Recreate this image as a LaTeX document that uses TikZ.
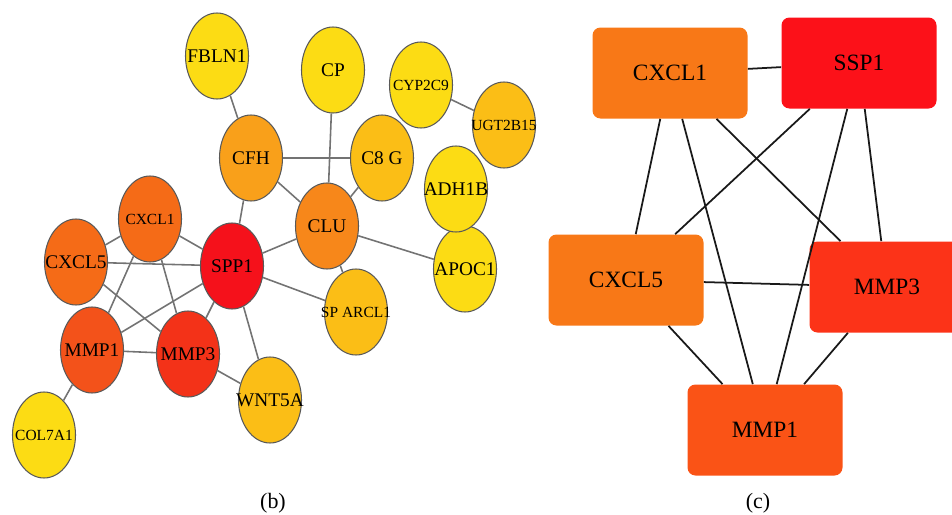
\documentclass[tikz,border=0pt]{standalone}
\usepackage{xcolor}
\usepackage{fontspec}
\setmainfont{Liberation Serif}
\usepackage{tikz}
\usetikzlibrary{shapes.geometric}

\definecolor{gyellow}{HTML}{FCDC14}
\definecolor{ggold}{HTML}{FBBE16}
\definecolor{gamber}{HTML}{F9A01A}
\definecolor{gorange}{HTML}{F7871A}
\definecolor{gdark}{HTML}{F56B17}
\definecolor{gmmpone}{HTML}{F3521A}
\definecolor{gmmpthree}{HTML}{F33218}
\definecolor{gred}{HTML}{F5111B}
\definecolor{borange}{HTML}{F87817}
\definecolor{bred}{HTML}{FC1119}
\definecolor{bmmpthree}{HTML}{FC3318}
\definecolor{bmmpone}{HTML}{FA5316}

\newcommand{\gn}[1]{\makebox[0pt]{#1}}
\tikzstyle{gene}=[ellipse, draw=black!65, line width=0.6pt, inner sep=0pt,
  minimum width=1.26cm, minimum height=1.72cm, font=\fontsize{11}{12}\selectfont]
\tikzstyle{small}=[font=\fontsize{8.8}{10}\selectfont]
\tikzstyle{hub}=[rectangle, rounded corners=0.16cm, inner sep=0pt,
  minimum width=3.1cm, minimum height=1.82cm, font=\fontsize{13.3}{15}\selectfont]
\tikzstyle{edge}=[draw=black!55, line width=0.9pt]
\tikzstyle{link}=[draw=black!90, line width=1pt]

\begin{document}
\begin{tikzpicture}
    \useasboundingbox (0, 0) rectangle (19.04cm, -10.3cm);
    % (b) full network
    \node[gene, fill=gyellow] (fbln1) at (4.34cm, -1.12cm) {\gn{FBLN1}};
    \node[gene, fill=gyellow] (cp) at (6.66cm, -1.40cm) {\gn{CP}};
    \node[gene, small, fill=gyellow] (cyp) at (8.42cm, -1.70cm) {\gn{CYP2C9}};
    \node[gene, small, fill=ggold] (ugt) at (10.08cm, -2.50cm) {\gn{UGT2B15}};
    \node[gene, fill=gamber] (cfh) at (5.02cm, -3.16cm) {\gn{CFH}};
    \node[gene, fill=ggold] (ceight) at (7.64cm, -3.16cm) {\gn{C8 G}};
    \node[gene, fill=gyellow] (apoc) at (9.30cm, -5.38cm) {\gn{APOC1}};
    \node[gene, fill=gyellow] (adh) at (9.12cm, -3.78cm) {\gn{ADH1B}};
    \node[gene, small, fill=gdark] (cxclone) at (3.00cm, -4.38cm) {\gn{CXCL1}};
    \node[gene, fill=gorange] (clu) at (6.54cm, -4.52cm) {\gn{CLU}};
    \node[gene, fill=gdark] (cxclfive) at (1.52cm, -5.24cm) {\gn{CXCL5}};
    \node[gene, fill=gred] (spp) at (4.64cm, -5.32cm) {\gn{SPP1}};
    \node[gene, small, fill=ggold] (sparc) at (7.12cm, -6.24cm) {\gn{SP ARCL1}};
    \node[gene, fill=gmmpone] (mmpone) at (1.84cm, -7.00cm) {\gn{MMP1}};
    \node[gene, fill=gmmpthree] (mmpthree) at (3.76cm, -7.08cm) {\gn{MMP3}};
    \node[gene, fill=ggold] (wnt) at (5.40cm, -8.00cm) {\gn{WNT5A}};
    \node[gene, small, fill=gyellow] (col) at (0.88cm, -8.70cm) {\gn{COL7A1}};

    \draw[edge] (fbln1) -- (cfh);
    \draw[edge] (cp) -- (clu);
    \draw[edge] (cfh) -- (ceight);
    \draw[edge] (cfh) -- (clu);
    \draw[edge] (cfh) -- (spp);
    \draw[edge] (ceight) -- (clu);
    \draw[edge] (cyp) -- (ugt);
    \draw[edge] (clu) -- (apoc);
    \draw[edge] (clu) -- (spp);
    \draw[edge] (clu) -- (sparc);
    \draw[edge] (spp) -- (sparc);
    \draw[edge] (spp) -- (cxclone);
    \draw[edge] (spp) -- (cxclfive);
    \draw[edge] (spp) -- (mmpone);
    \draw[edge] (spp) -- (mmpthree);
    \draw[edge] (spp) -- (wnt);
    \draw[edge] (cxclone) -- (cxclfive);
    \draw[edge] (cxclone) -- (mmpone);
    \draw[edge] (cxclone) -- (mmpthree);
    \draw[edge] (cxclfive) -- (mmpthree);
    \draw[edge] (mmpone) -- (mmpthree);
    \draw[edge] (mmpthree) -- (wnt);
    \draw[edge] (mmpone) -- (col);

    % (c) hub genes
    \node[hub, fill=borange] (hcxclone) at (13.40cm, -1.46cm) {CXCL1};
    \node[hub, fill=bred] (hssp) at (17.18cm, -1.26cm) {SSP1};
    \node[hub, fill=borange] (hcxclfive) at (12.52cm, -5.60cm) {CXCL5};
    \node[hub, fill=bmmpthree] (hmmpthree) at (17.74cm, -5.74cm) {MMP3};
    \node[hub, fill=bmmpone] (hmmpone) at (15.30cm, -8.60cm) {MMP1};

    \draw[link] (hcxclone) -- (hssp);
    \draw[link] (hcxclone) -- (hcxclfive);
    \draw[link] (hcxclone) -- (hmmpone);
    \draw[link] (hcxclone) -- (hmmpthree);
    \draw[link] (hssp) -- (hcxclfive);
    \draw[link] (hssp) -- (hmmpone);
    \draw[link] (hssp) -- (hmmpthree);
    \draw[link] (hcxclfive) -- (hmmpthree);
    \draw[link] (hcxclfive) -- (hmmpone);
    \draw[link] (hmmpthree) -- (hmmpone);

    \node[font=\fontsize{12.5}{14}\selectfont] (capb) at (5.46cm, -10.06cm) {(b)};
    \node[font=\fontsize{12.5}{14}\selectfont] (capc) at (15.16cm, -10.06cm) {(c)};
\end{tikzpicture}
\end{document}
